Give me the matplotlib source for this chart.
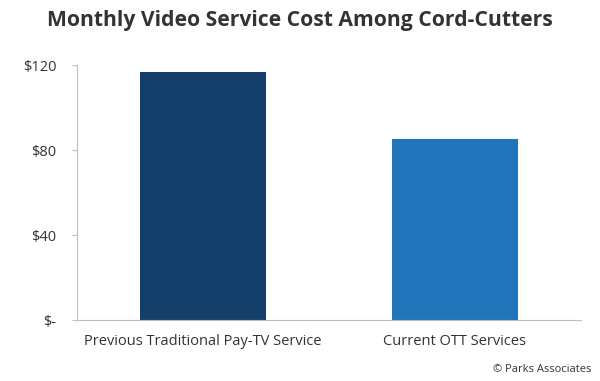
import numpy as np
import matplotlib.pyplot as plt

categories = ['Previous Traditional Pay-TV Service', 'Current OTT Services']
values = [117, 85]
colors = ['#133F6A', '#1F74BA']
yticks = [0, 40, 80, 120]
ytick_labels = ['$-', '$40', '$80', '$120']

plt.rcParams['font.family'] = ['Open Sans', 'DejaVu Sans']

fig = plt.figure(figsize=(6, 3.81), dpi=100)
ax = fig.add_axes([0.128, 0.16, 0.84, 0.669])

x = np.arange(len(categories))
ax.bar(x, values, width=0.5, color=colors)

ax.set_xlim(-0.5, 1.5)
ax.set_ylim(0, 120)
ax.set_yticks(yticks)
ax.set_yticklabels(ytick_labels, fontsize=10.5, color='#333333')
ax.set_xticks(x)
ax.set_xticklabels(categories, fontsize=10.5, color='#333333')
ax.tick_params(axis='x', length=0, pad=10)
ax.tick_params(axis='y', length=3.5, color='#BFBFBF', pad=11)

for s in ['top', 'right']:
    ax.spines[s].set_visible(False)
for s in ['left', 'bottom']:
    ax.spines[s].set_color('#BFBFBF')

fig.text(0.5, 0.945, 'Monthly Video Service Cost Among Cord-Cutters',
         ha='center', va='center', fontsize=15.2, fontweight='bold', color='#333333')
fig.text(0.985, 0.03, '\u00a9 Parks Associates', ha='right', va='center',
         fontsize=8, color='#333333')

fig.savefig('out.png', dpi=100)
